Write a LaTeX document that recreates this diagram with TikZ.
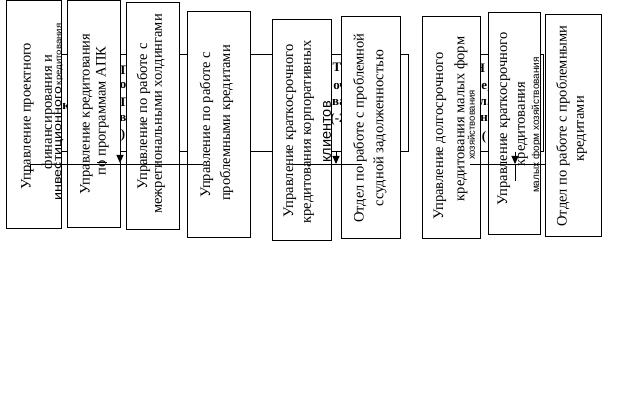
\documentclass[tikz,border=0pt]{standalone}
\usepackage{fontspec}
\setmainfont{Liberation Serif}
\newfontfamily\serff{Liberation Serif}
\newfontfamily\sansf{Liberation Sans}
\usetikzlibrary{arrows.meta}
\begin{document}
\begin{tikzpicture}[x=1pt,y=-1pt,
  fbox/.style={draw=black, fill=white, line width=1pt, inner sep=0pt},
  mt/.style={rotate=90, inner sep=0pt, font=\serff\fontsize{14.5}{16}\selectfont},
  st/.style={rotate=90, inner sep=0pt, font=\sansf\fontsize{#1}{#1}\selectfont},
  bf/.style={inner sep=0pt, font=\bfseries\fontsize{13}{15}\selectfont},
  ln/.style={line width=1pt},
  arr/.style={line width=1pt, -{Triangle[length=8pt,width=7pt]}}]
\useasboundingbox (0,0) rectangle (643,406);
\fill[white] (0,0) rectangle (643,406);
% background layer
\node[fbox, minimum width=350pt, minimum height=97pt] (bgA) at (233,103.5) {};
\node[fbox, minimum width=118pt, minimum height=97pt] (bgC) at (484,103.5) {};
% hidden bold fragments
\node[bf] (fa1) at (123,70) {Т};
\node[bf] (fa2) at (123,86) {о};
\node[bf] (fa3) at (123,102) {Т};
\node[bf] (fa4) at (123,119) {в};
\node[bf] (fa5) at (123,135) {)};
\node[bf] (fa6) at (66,107) {к};
\node[bf] (fb1) at (337,67) {Т};
\node[bf] (fb2) at (340,87) {оч};
\node[bf] (fb3) at (339,103) {ва};
\node[bf] (fb4) at (338,119) {(-2};
\node[bf] (fc1) at (480,68) {Н};
\node[bf] (fc2) at (486,87) {е,};
\node[bf] (fc3) at (485,103) {л.};
\node[bf] (fc4) at (484,119) {н};
\node[bf] (fc5) at (484,137) {(};
% foreground boxes
\node[fbox, minimum width=55pt, minimum height=228pt] (b1) at (33.5,115) {};
\node[fbox, minimum width=53pt, minimum height=227pt] (b2) at (93.5,114.5) {};
\node[fbox, minimum width=53pt, minimum height=227pt] (b3) at (152.5,116.5) {};
\node[fbox, minimum width=63pt, minimum height=226pt] (b4) at (218.5,125) {};
\node[fbox, minimum width=59pt, minimum height=221pt] (b5) at (301.5,130.5) {};
\node[fbox, minimum width=59pt, minimum height=222pt] (b6) at (370.5,128) {};
\node[fbox, minimum width=58pt, minimum height=222pt] (b7) at (451,128) {};
\node[fbox, minimum width=52pt, minimum height=222pt] (b8) at (514,124) {};
\node[fbox, minimum width=56pt, minimum height=222pt] (b9) at (573,126) {};
% texts
\node[mt] (t11) at (27.5,116) {Управление проектного};
\node[mt] (t12) at (48.5,112) {финансирования и};
\node[rotate=90, inner sep=0pt, anchor=base, font=\sansf] (t13) at (61,112)
  {\scalebox{1.3}[1]{\fontsize{11}{11}\selectfont инвестиционного}\,\scalebox{1.2}[1]{\fontsize{8}{8}\selectfont кредитования}};
\node[mt] (t21) at (86.5,114) {Управление кредитования};
\node[mt] (t22) at (102.5,111) {по программам АПК};
\node[mt] (t31) at (143.5,116.5) {Управление по работе с};
\node[mt] (t32) at (160,114) {межрегиональными холдингами};
\node[mt] (t41) at (206.5,125) {Управление по работе с};
\node[mt] (t42) at (226.5,123) {проблемными кредитами};
\node[mt] (t51) at (290,131) {Управление краткосрочного};
\node[mt] (t52) at (309,132) {кредитования корпоративных};
\node[st=14.5] (t53) at (327,132) {клиентов};
\node[mt] (t61) at (360,128) {Отдел по работе с проблемной};
\node[mt] (t62) at (380,128) {ссудной задолженностью};
\node[mt] (t71) at (440,136) {Управление долгосрочного};
\node[mt] (t72) at (461,119) {кредитования малых форм};
\node[st=9.5] (t73) at (471.5,125) {хозяйствования};
\node[mt] (t81) at (504,119) {Управление краткосрочного};
\node[mt] (t82) at (523,124) {кредитования};
\node[st=10] (t83) at (536.5,125) {малых форм хозяйствования};
\node[mt] (t91) at (563,126) {Отдел по работе с проблемными};
\node[mt] (t92) at (582,129) {кредитами};
% connector pieces on top
\coordinate (h1a) at (30,165);
\coordinate (h1b) at (203,165);
\coordinate (h2a) at (293,165);
\coordinate (h2b) at (362,165);
\coordinate (h3a) at (470,165);
\coordinate (h3b) at (545,165);
\coordinate (k1) at (30,173);
\coordinate (k2) at (515,181);
\coordinate (k3) at (515,164);
\coordinate (u1) at (97,163);
\coordinate (u2) at (107,163);
\draw[ln] (h1a) -- (h1b);
\draw[ln] (h2a) -- (h2b);
\draw[ln] (h3a) -- (h3b);
\draw[ln] (h1a) -- (k1);
\draw[ln] (k3) -- (k2);
\draw[ln] (u1) -- (u2);
\coordinate (a1s) at (120,152);
\coordinate (a1e) at (120,163);
\coordinate (a2s) at (336,152);
\coordinate (a2e) at (336,164);
\coordinate (a3s) at (515,152);
\coordinate (a3e) at (515,164);
\draw[arr] (a1s) -- (a1e);
\draw[arr] (a2s) -- (a2e);
\draw[arr] (a3s) -- (a3e);
\end{tikzpicture}
\end{document}
